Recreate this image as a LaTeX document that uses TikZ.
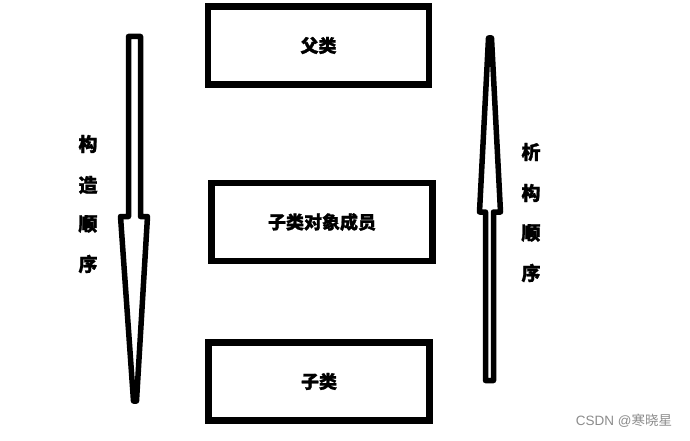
\documentclass[tikz,border=0pt]{standalone}
\usepackage{fontspec}
\newfontfamily\cjk{Noto Sans CJK SC}[BoldFeatures={FakeBold=1.2}]
\newfontfamily\wmfont{Liberation Sans}
\newfontfamily\wmcjk{Noto Sans CJK SC}
\tikzset{
  clsbox/.style={draw=black, line width=6.5pt, minimum width=221pt, minimum height=78pt, inner sep=0pt, font=\cjk\bfseries\fontsize{18}{18}\selectfont},
  arrowline/.style={draw=black, line width=5.5pt, line join=round, line cap=round, fill=white},
  sidelabel/.style={font=\cjk\bfseries\fontsize{19}{19}\selectfont, inner sep=0pt}
}
\begin{document}
\begin{tikzpicture}[x=1pt,y=-1pt]
\useasboundingbox[fill=white] (0,0) rectangle (690,441);
% boxes
\node[clsbox] (parent) at (318.5,45.5) {父类};
\node[clsbox] (member) at (322,222) {子类对象成员};
\node[clsbox] (child) at (319,381.5) {子类};
% left arrow (construction, downward)
\path[arrowline] (128.5,36.5) coordinate (la) -- (140.5,36.5) -- (140.5,216.5) -- (147.5,216.5)
  -- (136.5,401) -- (133.5,401) coordinate (lb) -- (120.5,216.5) -- (128.5,216.5) -- cycle;
% right arrow (destruction, upward)
\path[arrowline] (485.5,380.5) coordinate (ra) -- (493.5,380.5) -- (493.5,212) -- (500.5,212)
  -- (491.5,38) -- (488.5,38) coordinate (rb) -- (479.5,212) -- (485.5,212) -- cycle;
% labels
\node[sidelabel] (l1) at (88,144) {构};
\node[sidelabel] (l2) at (88,185) {造};
\node[sidelabel] (l3) at (88,224) {顺};
\node[sidelabel] (l4) at (88,264) {序};
\node[sidelabel] (r1) at (531,152) {析};
\node[sidelabel] (r2) at (531,193) {构};
\node[sidelabel] (r3) at (531,233) {顺};
\node[sidelabel] (r4) at (531,273) {序};
\node[font=\fontsize{13.5}{13.5}\selectfont, text=black!45, inner sep=0pt] (wm) at (624,421) {\wmfont CSDN @\wmcjk 寒晓星};
\end{tikzpicture}
\end{document}
